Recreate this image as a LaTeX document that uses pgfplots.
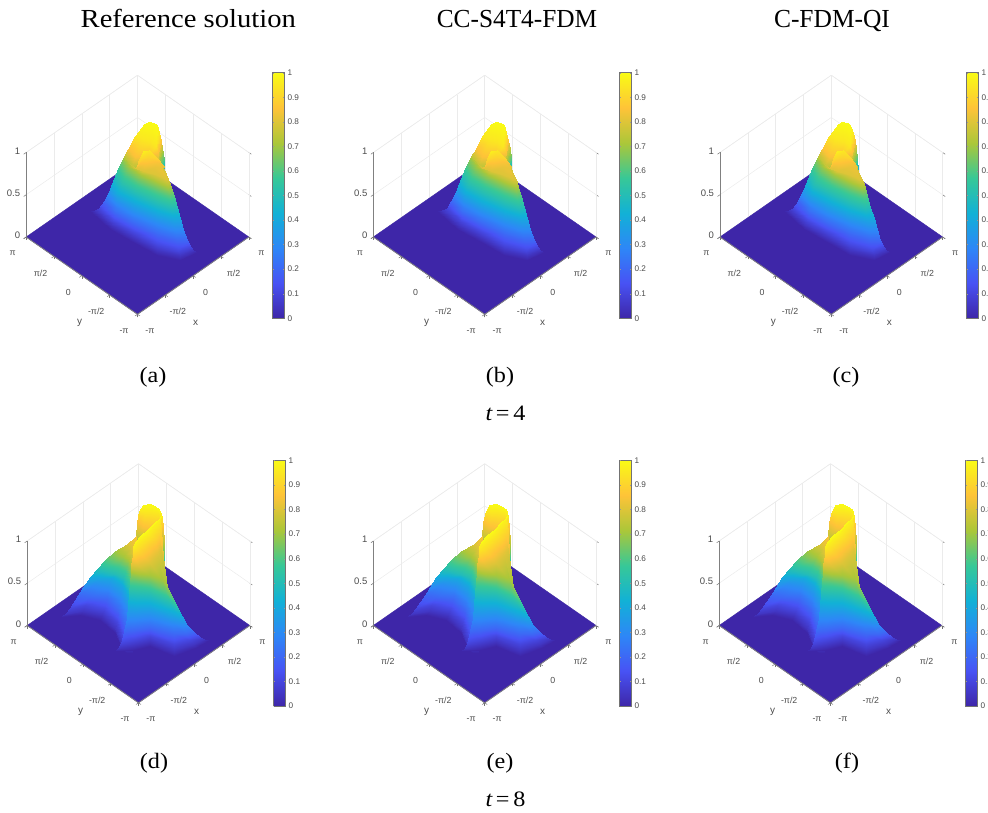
\documentclass[border=0pt]{standalone}
\usepackage{fontspec}
\setmainfont{Liberation Sans}
\newfontfamily\pal[FakeStretch=1.1]{Liberation Serif}
\usepackage{pgfplots}
\usepackage{pgfplotstable}
\pgfplotsset{compat=1.18}
\pgfplotsset{colormap={parula}{rgb=(0.2422,0.1504,0.6603) rgb=(0.2810,0.3228,0.9579) rgb=(0.1786,0.5289,0.9682) rgb=(0.0689,0.6948,0.8394) rgb=(0.2161,0.7843,0.5923) rgb=(0.6720,0.7793,0.2227) rgb=(0.9970,0.7659,0.2199) rgb=(0.9769,0.9839,0.0805)}}
\definecolor{lab}{gray}{0.3}

% columns: sx sy = position read on the reference (3x crop pixels), z = value read from the colour
\pgfplotstableread{
sx sy z
333 405 0.40
380 450 0.40
430 430 0.40
470 400 0.40
493 358 0.40
357 345 0.60
400 400 0.60
440 400 0.60
470 380 0.60
491 325 0.60
372 315 0.75
395 345 0.75
440 350 0.75
470 340 0.75
487 292 0.75
385 295 0.85
405 320 0.85
440 320 0.85
475 308 0.85
483 270 0.85
405 255 0.95
425 265 0.95
450 270 0.95
468 285 0.95
477 248 0.95
432 220 1.00
443 215 1.00
452 213 1.00
462 217 1.00
470 224 1.00
}\tFourBack
\pgfplotstableread{
sx sy z
270 480 0.00
330 535 0.00
400 575 0.00
470 615 0.00
540 630 0.00
590 603 0.00
285 478 0.05
335 522 0.05
400 558 0.05
470 598 0.05
540 615 0.05
578 597 0.05
298 470 0.10
340 510 0.10
400 545 0.10
470 585 0.10
535 602 0.10
572 590 0.10
312 452 0.20
345 487 0.20
400 518 0.20
470 552 0.20
530 570 0.20
560 568 0.20
323 430 0.30
348 458 0.30
400 487 0.30
470 518 0.30
525 537 0.30
549 535 0.30
333 405 0.40
352 430 0.40
402 456 0.40
470 487 0.40
520 503 0.40
540 503 0.40
345 375 0.50
362 402 0.50
405 428 0.50
470 456 0.50
515 472 0.50
530 470 0.50
357 345 0.60
375 372 0.60
412 398 0.60
470 425 0.60
510 440 0.60
521 437 0.60
370 322 0.70
388 348 0.70
420 372 0.70
470 397 0.70
505 412 0.70
513 410 0.70
405 352 0.80
412 356 0.80
430 362 0.80
470 375 0.80
497 385 0.80
505 387 0.80
412 345 0.85
418 340 0.85
435 340 0.85
465 350 0.82
490 368 0.82
497 372 0.80
418 325 0.90
425 318 0.92
445 318 0.90
470 335 0.85
487 352 0.82
490 352 0.78
422 315 0.93
430 300 0.97
448 298 0.95
472 322 0.90
488 343 0.82
491 345 0.78
}\tFourFront
\pgfplotstableread{
sx sy z
405 365 0.40
430 370 0.40
460 385 0.40
480 400 0.40
493 395 0.40
405 330 0.60
430 335 0.60
460 345 0.60
480 345 0.60
492 350 0.60
407 290 0.75
430 300 0.75
460 300 0.75
480 300 0.75
491 305 0.75
410 245 0.85
430 260 0.85
455 265 0.85
475 262 0.85
489 262 0.85
418 210 0.95
435 215 0.95
455 215 0.95
472 218 0.95
486 228 0.95
428 194 1.00
440 190 1.00
452 190 1.00
465 195 1.00
478 205 1.00
}\tEightBack
\pgfplotstableread{
sx sy z
180 530 0.00
240 525 0.00
300 540 0.00
345 580 0.00
365 630 0.00
380 640 0.00
395 640 0.00
195 522 0.05
250 512 0.05
305 525 0.05
345 565 0.05
362 610 0.05
375 620 0.05
395 620 0.05
210 505 0.10
255 495 0.10
312 510 0.10
350 545 0.10
365 590 0.10
378 600 0.10
395 600 0.10
235 465 0.20
268 470 0.20
320 478 0.20
355 510 0.20
372 550 0.20
382 560 0.20
395 560 0.20
250 440 0.30
280 435 0.30
325 445 0.30
360 470 0.30
378 500 0.30
385 515 0.30
395 520 0.30
270 410 0.40
295 410 0.40
335 415 0.40
365 435 0.40
382 465 0.40
388 480 0.40
395 485 0.40
290 385 0.50
312 392 0.50
345 400 0.50
370 415 0.50
385 440 0.50
390 450 0.50
395 455 0.50
315 358 0.60
332 368 0.60
358 375 0.60
378 385 0.60
388 410 0.60
392 420 0.60
395 425 0.60
345 332 0.70
355 340 0.70
370 350 0.70
383 362 0.70
391 380 0.70
394 390 0.70
396 395 0.70
382 310 0.80
386 315 0.80
391 320 0.80
395 335 0.80
398 350 0.80
400 360 0.80
402 365 0.80
408 288 0.85
408 295 0.85
408 305 0.85
408 320 0.85
408 335 0.85
408 345 0.85
408 350 0.85
}\tEightLeft
\pgfplotstableread{
sx sy z
345 635 0.00
400 630 0.00
450 620 0.00
520 650 0.00
585 625 0.00
625 600 0.00
355 625 0.05
400 615 0.05
450 605 0.05
520 632 0.05
580 612 0.05
612 597 0.05
362 610 0.10
400 600 0.10
450 590 0.10
520 612 0.10
570 600 0.10
598 592 0.10
372 575 0.20
402 570 0.20
450 565 0.20
520 582 0.20
558 582 0.20
580 578 0.20
380 535 0.30
405 535 0.30
450 530 0.30
515 550 0.30
545 555 0.30
560 555 0.30
384 495 0.40
408 497 0.40
450 497 0.40
510 520 0.40
535 528 0.40
545 530 0.40
387 460 0.50
410 462 0.50
450 465 0.50
505 490 0.50
525 500 0.50
533 508 0.50
389 425 0.60
412 428 0.60
450 435 0.60
495 455 0.60
510 470 0.60
518 478 0.60
391 400 0.70
415 405 0.70
450 408 0.70
487 420 0.70
498 435 0.70
500 440 0.70
393 375 0.80
418 378 0.80
450 368 0.80
472 345 0.80
484 330 0.80
488 350 0.80
397 345 0.90
418 335 0.90
445 312 0.90
465 295 0.90
477 280 0.90
484 270 0.90
399 318 0.97
418 300 0.97
440 280 0.97
458 258 0.97
470 245 0.97
480 235 0.97
405 305 1.00
422 285 1.00
445 265 1.00
465 245 1.00
475 235 1.00
482 225 1.00
}\tEightRight

\newcommand\sheetF[2]{\addplot3[surf,shader=interp,mesh/cols=#2,z buffer=default,point meta=z] table[z=z,
 x expr={1.5708*((\thisrow{sx}-412.5)/167+(559-\thisrow{sy}-253*\thisrow{z})/117)},
 y expr={1.5708*((559-\thisrow{sy}-253*\thisrow{z})/117-(\thisrow{sx}-412.5)/167)}] {#1};}
\newcommand\sheetE[2]{\addplot3[surf,shader=interp,mesh/cols=#2,z buffer=default,point meta=z] table[z=z,
 x expr={1.5708*((\thisrow{sx}-415)/167+(557-\thisrow{sy}-255*\thisrow{z})/117)},
 y expr={1.5708*((557-\thisrow{sy}-255*\thisrow{z})/117-(\thisrow{sx}-415)/167)}] {#1};}

\newcommand\panel[5]{% cx cy cbx cbTopY  surfaces
\begin{axis}[at={(#1pt,812pt-#2pt)},anchor=origin,clip=false,
 x={(17.72pt,12.3pt)},y={(-17.72pt,12.3pt)},z={(0pt,84.5pt)},
 xmin=-3.14159,xmax=3.14159,ymin=-3.14159,ymax=3.14159,zmin=0,zmax=1,
 point meta min=0,point meta max=1,colormap name=parula,
 xtick={-3.14159,-1.5708,0,1.5708,3.14159},ytick={-3.14159,-1.5708,0,1.5708,3.14159},ztick={0,0.5,1},
 xticklabels={-π,-π/2,0,π/2,π},yticklabels={-π,-π/2,0,π/2,π},zticklabels={0,0.5,1},
 grid=major,grid style={black!8,line width=0.5pt},
 axis line style={black!8,line width=0.5pt},
 tickpos=left,tick align=outside,
 tick style={black!55,line width=0.5pt},major tick length=3pt,
 ticklabel style={font=\fontsize{8.8}{9}\selectfont,text=lab},
 xticklabel style={anchor=center,xshift=10pt,yshift=-15pt},
 yticklabel style={anchor=center,xshift=-11pt,yshift=-15pt},
 zticklabel style={font=\fontsize{9.5}{10}\selectfont,anchor=east,xshift=0pt},
]
\addplot3[surf,shader=flat,mesh/cols=2,z buffer=default,point meta=z] coordinates {(-3.14159,-3.14159,0)(3.14159,-3.14159,0)(-3.14159,3.14159,0)(3.14159,3.14159,0)};
\addplot3[black!50,line width=0.8pt] coordinates {(-3.14159,3.14159,0)(-3.14159,-3.14159,0)(3.14159,-3.14159,0)};
\addplot3[black!50,line width=0.8pt] coordinates {(-3.14159,3.14159,0)(-3.14159,3.14159,1)};
#5
\end{axis}
\node[font=\fontsize{10}{10}\selectfont,text=lab] at (#1pt+58pt,812pt-#2pt-86pt) {x};
\node[font=\fontsize{10}{10}\selectfont,text=lab] at (#1pt-58pt,812pt-#2pt-86pt) {y};
\begin{axis}[at={(#3pt,812pt-#4pt-245.5pt)},anchor=south west,scale only axis,width=12.2pt,height=245.5pt,
 view={0}{90},xmin=0,xmax=1,ymin=0,ymax=1,colormap name=parula,point meta min=0,point meta max=1,
 xtick=\empty,ytick={0,0.1,0.2,0.3,0.4,0.5,0.6,0.7,0.8,0.9,1},
 yticklabels={0,0.1,0.2,0.3,0.4,0.5,0.6,0.7,0.8,0.9,1},
 yticklabel pos=right,major tick length=1.5pt,tick style={black!40},
 ticklabel style={font=\fontsize{8.2}{9}\selectfont,text=lab,xshift=-0.5pt},
 axis line style={black!55,line width=0.6pt},axis on top]
\addplot3[surf,shader=interp,mesh/cols=2,point meta=y] coordinates {(0,0,0)(1,0,0)(0,1,0)(1,1,0)};
\end{axis}
}
\newcommand\FourS{\sheetF{\tFourBack}{5}\sheetF{\tFourFront}{6}}
\newcommand\EightS{\sheetE{\tEightBack}{5}\sheetE{\tEightLeft}{7}\sheetE{\tEightRight}{6}}

\begin{document}
\begin{tikzpicture}[x=1pt,y=1pt]
\useasboundingbox (0,0) rectangle (988,812);
\panel{137.5}{237}{272.3}{72.7}{\FourS}
\panel{484.7}{237}{619.3}{72.7}{\FourS}
\panel{831.3}{237}{966.3}{72.7}{\FourS}
\panel{138.5}{625.5}{273.5}{460.5}{\EightS}
\panel{484.7}{625.5}{619.3}{460.5}{\EightS}
\panel{830.5}{625.5}{965.3}{460.5}{\EightS}
\begin{scope}[every node/.style={inner sep=0pt,anchor=base,font=\pal\fontsize{26}{29}\selectfont}]
\node at (188.3,784) {Reference solution};
\node at (517,784) {\scalebox{0.885}[1]{CC-S4T4-FDM}};
\node at (832,784) {\scalebox{0.89}[1]{C-FDM-QI}};
\end{scope}
\begin{scope}[every node/.style={inner sep=0pt,anchor=base,font=\pal\fontsize{22}{25}\selectfont}]
\node at (153,429) {(a)};
\node at (500,429) {(b)};
\node at (846,429) {(c)};
\node at (154,44) {(d)};
\node at (500,44) {(e)};
\node at (847,44) {(f)};
\node at (505.5,391) {\itshape t\,\upshape =\,4};
\node at (505.5,6) {\itshape t\,\upshape =\,8};
\end{scope}
\end{tikzpicture}
\end{document}
